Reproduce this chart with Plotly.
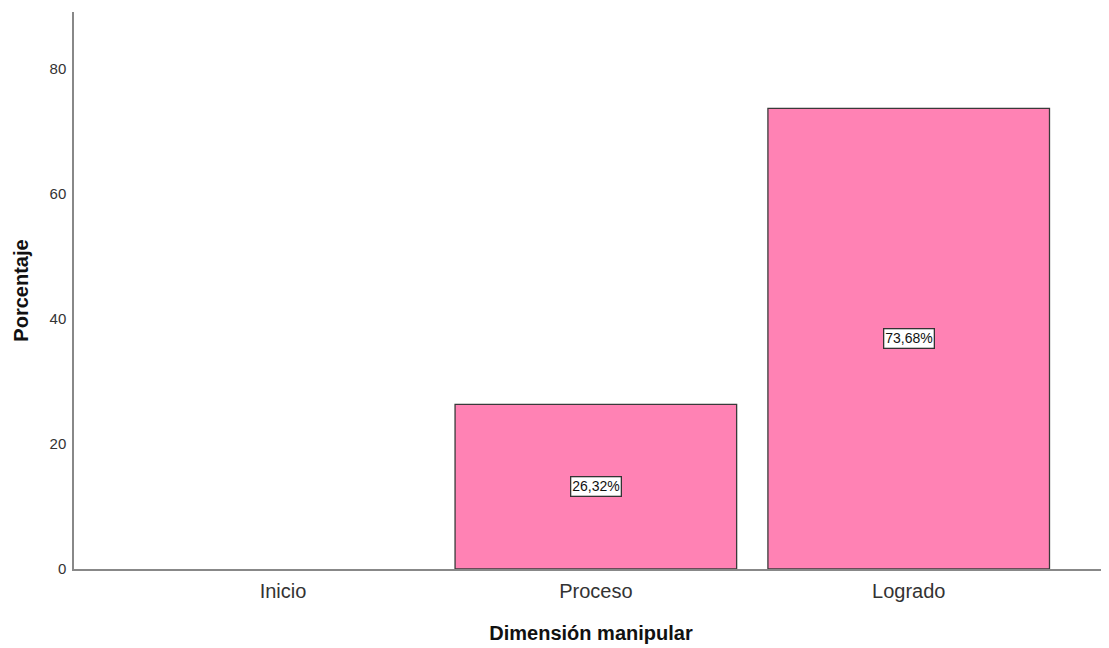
import plotly.graph_objects as go

categories = ["Inicio", "Proceso", "Logrado"]
values = [0.0, 26.32, 73.68]
labels = ["", "26,32%", "73,68%"]
y_ticks = [0, 20, 40, 60, 80]

x_pos = list(range(len(categories)))
FONT = "Arial, Liberation Sans, sans-serif"

fig = go.Figure()
fig.add_trace(go.Bar(
    x=x_pos, y=values, width=0.9,
    marker=dict(color="#FF82B4",
                line=dict(color="#3a3a3a", width=[0 if v == 0 else 1.3 for v in values])),
    hoverinfo="skip",
))

for xi, v, lab in zip(x_pos, values, labels):
    if v > 0:
        fig.add_annotation(x=xi, y=v / 2, text=lab, showarrow=False,
                           font=dict(family=FONT, size=14, color="#111"),
                           bgcolor="white", bordercolor="#333", borderwidth=1.3, borderpad=1)

fig.update_layout(
    width=1101, height=640,
    margin=dict(l=66, r=1, t=4, b=79),
    plot_bgcolor="white", paper_bgcolor="white",
    showlegend=False,
    xaxis=dict(range=[-0.668, 2.637], tickvals=x_pos, ticktext=categories,
               showline=True, linecolor="#888", linewidth=1.5, showgrid=False, zeroline=False,
               ticks="", ticklabelstandoff=3,
               tickfont=dict(family=FONT, size=20, color="#333"),
               title=dict(text="<b>Dimensión manipular</b>", standoff=25,
                          font=dict(family=FONT, size=20, color="#111"))),
    yaxis=dict(range=[0, 89.1], tickvals=y_ticks,
               showline=True, linecolor="#888", linewidth=1.5, showgrid=False, zeroline=False,
               ticks="", ticklabelstandoff=3,
               tickfont=dict(family=FONT, size=15, color="#333"),
               title=dict(text="<b>Porcentaje</b>", standoff=16,
                          font=dict(family=FONT, size=20, color="#111"))),
)

fig.write_html("out.html")
